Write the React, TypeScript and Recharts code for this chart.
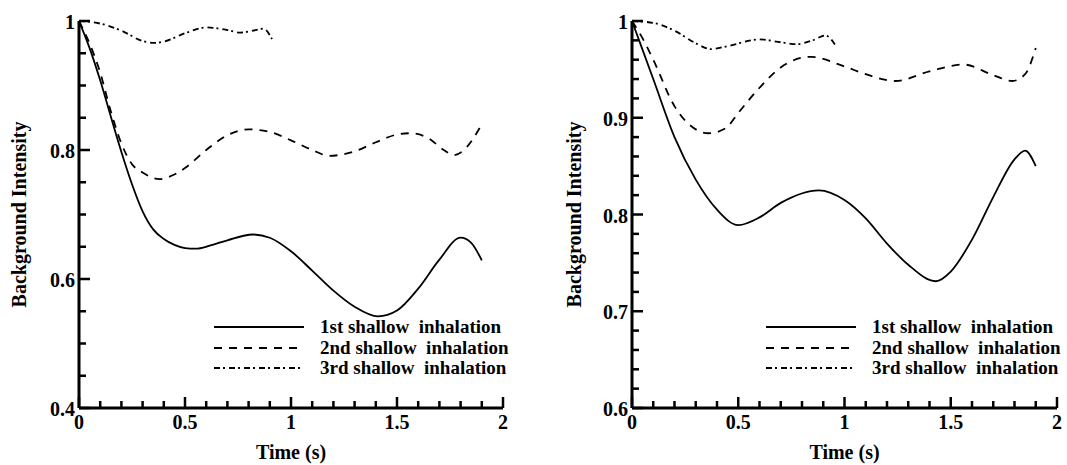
import { LineChart, Line, XAxis, YAxis, Legend } from 'recharts';

const FONT = '"Liberation Serif", "Times New Roman", serif';

// legend names (wide gap between words as in the figure)
const seriesNames = ['1st shallow  inhalation', '2nd shallow  inhalation', '3rd shallow  inhalation'];
const dashes = ['0', '8 7', '6 3 2 4'];

// x axis
const xTicks = [0, 0.1, 0.2, 0.3, 0.4, 0.5, 0.6, 0.7, 0.8, 0.9, 1, 1.1, 1.2, 1.3, 1.4, 1.5, 1.6, 1.7, 1.8, 1.9, 2];
const xLabels = [0, 0.5, 1, 1.5, 2];

// left panel y axis
const leftYTicks = [0.4, 0.45, 0.5, 0.55, 0.6, 0.65, 0.7, 0.75, 0.8, 0.85, 0.9, 0.95, 1];
const leftYLabels = [0.4, 0.6, 0.8, 1];

// right panel y axis
const rightYTicks = [0.6, 0.62, 0.64, 0.66, 0.68, 0.7, 0.72, 0.74, 0.76, 0.78, 0.8, 0.82, 0.84, 0.86, 0.88, 0.9, 0.92, 0.94, 0.96, 0.98, 1];
const rightYLabels = [0.6, 0.7, 0.8, 0.9, 1];

// left panel data
const leftT1 = [0, 0.05, 0.1, 0.15, 0.2, 0.25, 0.3, 0.35, 0.4, 0.45, 0.5, 0.55, 0.62, 0.7, 0.82, 0.9, 1.0, 1.1, 1.2, 1.3, 1.41, 1.5, 1.6, 1.7, 1.8, 1.85, 1.9];
const leftV1 = [1, 0.958, 0.908, 0.852, 0.797, 0.747, 0.705, 0.677, 0.662, 0.653, 0.648, 0.647, 0.652, 0.66, 0.669, 0.664, 0.643, 0.613, 0.582, 0.557, 0.542, 0.551, 0.585, 0.63, 0.664, 0.656, 0.629];
const leftT2 = [0, 0.05, 0.1, 0.15, 0.2, 0.25, 0.3, 0.38, 0.45, 0.5, 0.6, 0.7, 0.8, 0.9, 1.0, 1.1, 1.18, 1.3, 1.4, 1.5, 1.56, 1.65, 1.72, 1.77, 1.83, 1.89];
const leftV2 = [1, 0.965, 0.92, 0.86, 0.81, 0.778, 0.765, 0.755, 0.762, 0.772, 0.8, 0.823, 0.832, 0.828, 0.815, 0.8, 0.791, 0.798, 0.812, 0.824, 0.826, 0.818, 0.8, 0.792, 0.805, 0.834];
const leftT3 = [0, 0.1, 0.2, 0.3, 0.35, 0.4, 0.5, 0.6, 0.7, 0.76, 0.82, 0.87, 0.91];
const leftV3 = [1, 0.996, 0.985, 0.969, 0.966, 0.968, 0.981, 0.99, 0.986, 0.982, 0.985, 0.988, 0.972];

// right panel data
const rightT1 = [0, 0.1, 0.2, 0.3, 0.4, 0.5, 0.6, 0.7, 0.88, 1.0, 1.1, 1.2, 1.3, 1.43, 1.5, 1.6, 1.7, 1.8, 1.85, 1.9];
const rightV1 = [1, 0.94, 0.88, 0.836, 0.805, 0.789, 0.797, 0.812, 0.825, 0.815, 0.796, 0.77, 0.748, 0.731, 0.741, 0.774, 0.818, 0.857, 0.866, 0.85];
const rightT2 = [0, 0.05, 0.1, 0.2, 0.3, 0.36, 0.44, 0.5, 0.6, 0.7, 0.84, 1.0, 1.1, 1.24, 1.4, 1.56, 1.7, 1.79, 1.85, 1.9];
const rightV2 = [1, 0.982, 0.96, 0.912, 0.888, 0.884, 0.889, 0.905, 0.931, 0.952, 0.963, 0.953, 0.945, 0.938, 0.948, 0.955, 0.944, 0.938, 0.945, 0.972];
const rightT3 = [0, 0.1, 0.2, 0.3, 0.37, 0.45, 0.6, 0.7, 0.77, 0.85, 0.91, 0.96];
const rightV3 = [1, 0.998, 0.99, 0.977, 0.971, 0.974, 0.981, 0.978, 0.976, 0.98, 0.985, 0.974];

const toPoints = (t: number[], v: number[]) => t.map((x, i) => ({ t: x, v: v[i] }));

const textStyle = { fontFamily: FONT, fontWeight: 'bold' as const, fontSize: 20, fill: '#000' };

// ticks point into the plot; labelled ticks are longer
const XTick = (props: any) => {
  const x = Number(props.x);
  const y = Number(props.y);
  const value = props.payload?.value;
  const major = xLabels.includes(value);
  return (
    <g>
      <line x1={x} y1={y} x2={x} y2={y - (major ? 11 : 7)} stroke="#000" strokeWidth={2.5} />
      {major && (
        <text x={x} y={y + 21} textAnchor="middle" {...textStyle}>
          {value}
        </text>
      )}
    </g>
  );
};

const makeYTick = (labels: number[]) => (props: any) => {
  const x = Number(props.x);
  const y = Number(props.y);
  const value = props.payload?.value;
  const major = labels.includes(value);
  return (
    <g>
      <line x1={x} y1={y} x2={x + (major ? 11 : 7)} y2={y} stroke="#000" strokeWidth={2.5} />
      {major && (
        <text x={x - 4} y={y + 1} textAnchor="end" dominantBaseline="central" {...textStyle}>
          {value}
        </text>
      )}
    </g>
  );
};

const yTitle = (cx: number) => (p: any) => {
  const vb = p.viewBox || {};
  const cy = (vb.y ?? 21) + (vb.height ?? 387) / 2;
  return (
    <text x={cx} y={cy} transform={`rotate(-90, ${cx}, ${cy})`} textAnchor="middle" dominantBaseline="central" {...textStyle}>
      Background Intensity
    </text>
  );
};

const xTitle = (p: any) => {
  const vb = p.viewBox || {};
  const cx = (vb.x ?? 0) + (vb.width ?? 0) / 2;
  const y = (vb.y ?? 408) + 51;
  return (
    <text x={cx} y={y} textAnchor="middle" {...textStyle}>
      Time (s)
    </text>
  );
};

const renderLegend = (props: any) => (
  <div style={{ fontFamily: FONT, fontWeight: 'bold', fontSize: 19, color: '#000' }}>
    {(props.payload || []).map((e: any) => {
      const i = seriesNames.indexOf(e.value);
      return (
        <div key={e.value} style={{ display: 'flex', alignItems: 'center', height: 20.5, whiteSpace: 'pre' }}>
          <svg width={90} height={6}>
            <line x1={0} y1={3} x2={90} y2={3} stroke="#000" strokeWidth={2} strokeDasharray={dashes[i]} />
          </svg>
          <span style={{ marginLeft: 16, lineHeight: '20px' }}>{e.value}</span>
        </div>
      );
    })}
  </div>
);

type PanelProps = {
  width: number;
  yAxisWidth: number;
  marginRight: number;
  yDomain: [number, number];
  yTicks: number[];
  yLabels: number[];
  series: { t: number; v: number }[][];
  legendLeft: number;
  titleX: number;
};

const axisStroke = { stroke: '#000', strokeWidth: 3 };

function Panel(p: PanelProps) {
  return (
    <LineChart width={p.width} height={465} margin={{ top: 21, right: p.marginRight, bottom: 0, left: 0 }}>
      <XAxis
        type="number"
        dataKey="t"
        domain={[0, 2]}
        ticks={xTicks}
        interval={0}
        height={57}
        tickSize={-10}
        tickMargin={10}
        tickLine={false}
        tick={XTick}
        axisLine={axisStroke}
        label={xTitle}
      />
      <YAxis
        type="number"
        domain={p.yDomain}
        ticks={p.yTicks}
        interval={0}
        width={p.yAxisWidth}
        tickSize={-10}
        tickMargin={10}
        tickLine={false}
        tick={makeYTick(p.yLabels)}
        axisLine={axisStroke}
        label={yTitle(p.titleX)}
      />
      <Legend
        layout="vertical"
        align="center"
        verticalAlign="middle"
        content={renderLegend}
        wrapperStyle={{ left: p.legendLeft, top: 317, width: 330 }}
      />
      {p.series.map((d, i) => (
        <Line
          key={seriesNames[i]}
          name={seriesNames[i]}
          data={d}
          dataKey="v"
          type="monotone"
          stroke="#000"
          strokeWidth={1.8}
          strokeDasharray={dashes[i]}
          dot={false}
          activeDot={false}
          isAnimationActive={false}
        />
      ))}
    </LineChart>
  );
}

export default function App() {
  return (
    <div style={{ position: 'absolute', left: 0, top: 0, width: 1067, height: 465, background: '#fff' }}>
      <div style={{ position: 'absolute', left: 0, top: 0 }}>
        <Panel
          width={540}
          yAxisWidth={79}
          marginRight={37}
          yDomain={[0.4, 1]}
          yTicks={leftYTicks}
          yLabels={leftYLabels}
          series={[toPoints(leftT1, leftV1), toPoints(leftT2, leftV2), toPoints(leftT3, leftV3)]}
          legendLeft={214}
          titleX={19}
        />
      </div>
      <div style={{ position: 'absolute', left: 540, top: 0 }}>
        <Panel
          width={527}
          yAxisWidth={92}
          marginRight={10}
          yDomain={[0.6, 1]}
          yTicks={rightYTicks}
          yLabels={rightYLabels}
          series={[toPoints(rightT1, rightV1), toPoints(rightT2, rightV2), toPoints(rightT3, rightV3)]}
          legendLeft={226}
          titleX={34}
        />
      </div>
    </div>
  );
}
